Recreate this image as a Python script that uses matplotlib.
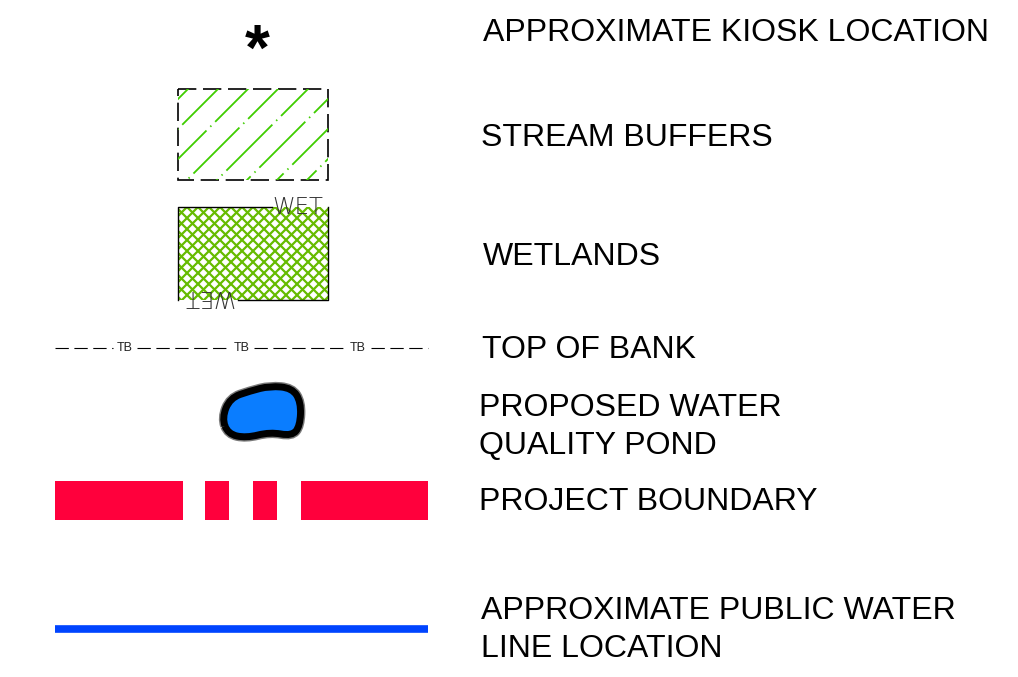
import numpy as np
import matplotlib.pyplot as plt
from matplotlib.patches import Rectangle, PathPatch
from matplotlib.path import Path

# legend entries (label lines, text anchor x, y of each line)
labels = [
    ["APPROXIMATE KIOSK LOCATION"],
    ["STREAM BUFFERS"],
    ["WETLANDS"],
    ["TOP OF BANK"],
    ["PROPOSED WATER", "QUALITY POND"],
    ["PROJECT BOUNDARY"],
    ["APPROXIMATE PUBLIC WATER", "LINE LOCATION"],
]
label_x = [483, 481, 483, 482, 479, 479, 481]
label_y = [[33], [138], [257], [350], [408, 446], [502], [611, 649]]

plt.rcParams['font.family'] = ['Liberation Sans', 'DejaVu Sans']

fig = plt.figure(figsize=(10.18, 6.77), dpi=100)
ax = fig.add_axes([0, 0, 1, 1])
ax.set_xlim(0, 1018)
ax.set_ylim(677, 0)
ax.axis('off')


def diag_lines(x0, x1, y0, y1, step, sign, dashes=None, **kw):
    """draw 45 degree lines clipped to a box"""
    box = Rectangle((x0, y0), x1 - x0, y1 - y0, transform=ax.transData, fill=False)
    xs = np.array([x0 - 150, x1 + 150])
    if sign > 0:
        cs = np.arange(x0 + y0 - 200, x1 + y1 + 200, step)
    else:
        cs = np.arange(y0 - x1 - 200, y1 - x0 + 200, step)
    for k, c in enumerate(cs):
        ys = c - xs if sign > 0 else c + xs
        ln, = ax.plot(xs, ys, **kw)
        if dashes is not None:
            ln.set_linestyle(((k * 17.0) % sum(dashes), dashes))
        ln.set_clip_path(box)


# kiosk asterisk
ax.text(257, 53, "*", fontsize=46, fontweight='bold', ha='center', va='center')

# stream buffers: dashed frame with dash-dot green diagonals
x0, x1, y0, y1 = 178, 328, 89, 180
diag_lines(x0, x1, y0, y1, 30, 1, dashes=(36, 3, 0.8, 3),
           color='#3fcc00', linewidth=1.3)
ax.add_patch(Rectangle((x0, y0), x1 - x0, y1 - y0, fill=False, edgecolor='black',
                       linewidth=1.2, linestyle=(0, (11, 4))))

# wetlands: green crosshatch
wx0, wx1, wy0, wy1 = 178, 328, 207, 300
diag_lines(wx0, wx1, wy0, wy1, 11, 1, color='#66bb00', linewidth=1.6)
diag_lines(wx0, wx1, wy0, wy1, 11, -1, color='#66bb00', linewidth=1.6)
ax.plot([272, wx0, wx0], [wy0, wy0, wy1], color='black', linewidth=1)
ax.plot([wx1, wx1, 238], [wy0, wy1, wy1], color='black', linewidth=1)
ax.text(298, 207, "WET", fontsize=16.5, color='#333333', ha='center', va='center',
        family=['DejaVu Sans'], fontweight='light')
ax.text(208, 296, "WET", fontsize=16.5, color='#333333', ha='center', va='center',
        rotation=180, family=['DejaVu Sans'], fontweight='light')

# top of bank
tb_x = [125, 242, 358]
seg = [(55, 113), (137, 228), (254, 345), (371, 428)]
for a, b in seg:
    ax.plot([a, b], [348, 348], color='black', linewidth=0.8, linestyle=(0, (12, 5)))
for x in tb_x:
    ax.text(x, 348, "TB", fontsize=9, ha='center', va='center', color='#222222')

# proposed pond
pts = np.array([(222, 418), (230, 398), (250, 391), (270, 386), (292, 388),
                (301, 402), (300, 426), (292, 436), (270, 432), (246, 438), (228, 434)])
mids = (pts + np.roll(pts, -1, axis=0)) / 2
verts = [mids[-1]]
codes = [Path.MOVETO]
for p, m in zip(pts, mids):
    verts += [p, m]
    codes += [Path.CURVE3, Path.CURVE3]
pond = Path(verts, codes)
ax.add_patch(PathPatch(pond, facecolor='none', edgecolor='#222222', linewidth=7,
                       alpha=0.6))
ax.add_patch(PathPatch(pond, facecolor='#0a7dff', edgecolor='black', linewidth=5))

# project boundary
for a, b in [(55, 183), (205, 229), (253, 277), (301, 428)]:
    ax.add_patch(Rectangle((a, 481), b - a, 39, facecolor='#ff003c', edgecolor='none'))

# public water line
ax.plot([55, 428], [629, 629], color='#0044ff', linewidth=5.5, solid_capstyle='butt')

for lines, x, ys in zip(labels, label_x, label_y):
    for t, y in zip(lines, ys):
        ax.text(x, y, t, fontsize=23, ha='left', va='center', color='black')

fig.savefig("out.png", dpi=100)
